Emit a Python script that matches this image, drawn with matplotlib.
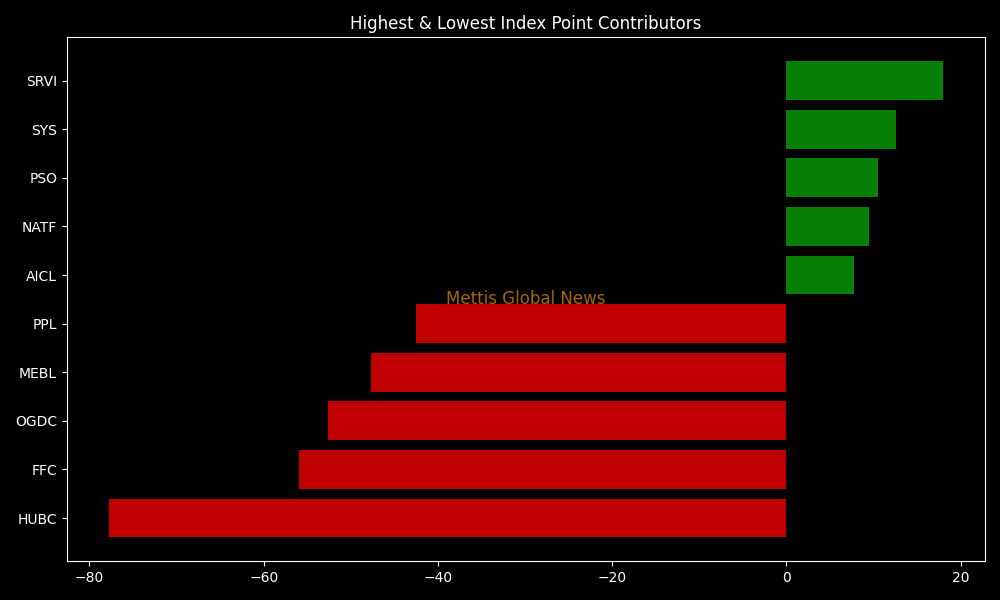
import matplotlib
matplotlib.use("Agg")
import matplotlib.pyplot as plt

plt.style.use("dark_background")

symbols = ["HUBC", "FFC", "OGDC", "MEBL", "PPL", "AICL", "NATF", "PSO", "SYS", "SRVI"]
points = [-77.8, -56.0, -52.6, -47.7, -42.5, 7.7, 9.5, 10.5, 12.6, 18.0]

colors = ["#088008" if v > 0 else "#c00000" for v in points]

fig, ax = plt.subplots(figsize=(10, 6), dpi=100)
ax.barh(symbols, points, color=colors)
ax.set_title("Highest & Lowest Index Point Contributors")
ax.text(0.5, 0.5, "Mettis Global News", transform=ax.transAxes, ha="center", va="center",
        fontsize=12, color="#a86400")
fig.tight_layout()
fig.savefig("out.png")
